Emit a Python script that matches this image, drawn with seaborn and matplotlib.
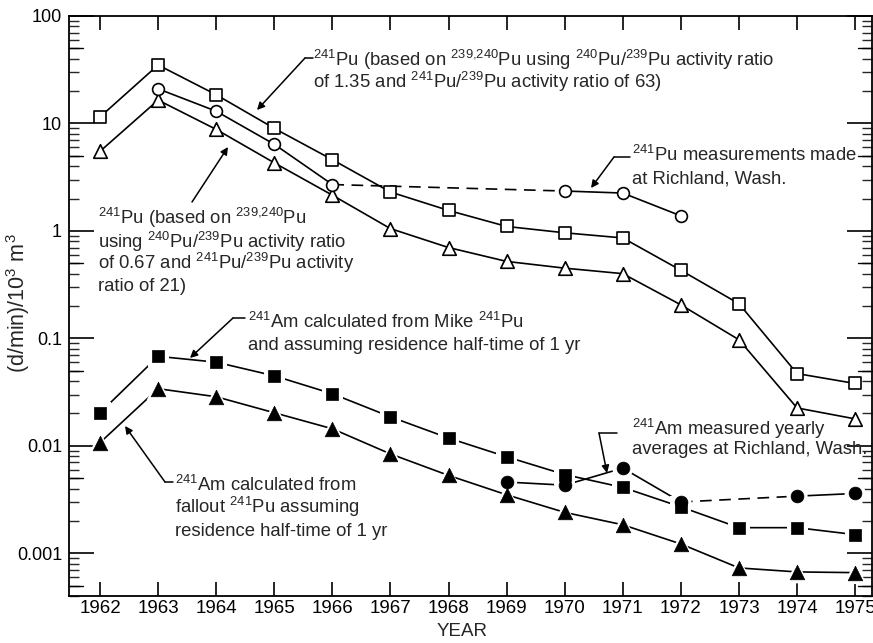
import matplotlib
matplotlib.use("Agg")
import matplotlib.pyplot as plt
import matplotlib.lines as mlines
import numpy as np
import pandas as pd
import seaborn as sns

# ---- data -------------------------------------------------------------
years = list(range(1962, 1976))
year_labels = [str(y) for y in years]

# 241Pu derived from 239,240Pu (ratios 1.35 / 63) - open squares
pu241_high = [11.5, 35.0, 18.5, 9.0, 4.6, 2.3, 1.55, 1.1, 0.96, 0.86, 0.43, 0.21, 0.047, 0.038]
# 241Pu derived from 239,240Pu (ratios 0.67 / 21) - open triangles
pu241_low = [5.5, 16.5, 8.8, 4.3, 2.15, 1.05, 0.70, 0.52, 0.45, 0.40, 0.205, 0.097, 0.0225, 0.0178]
# 241Pu measured at Richland - open circles
pu241_rich_years = [1963, 1964, 1965, 1966, 1970, 1971, 1972]
pu241_rich = [21.0, 13.0, 6.4, 2.7, 2.35, 2.25, 1.38]
# 241Am from Mike 241Pu - filled squares
am241_mike = [0.0203, 0.068, 0.060, 0.0448, 0.0305, 0.0186, 0.0118, 0.0079,
              0.0054, 0.0041, 0.0027, 0.00173, 0.00173, 0.00149]
# 241Am from fallout 241Pu - filled triangles
am241_fallout = [0.0107, 0.034, 0.0286, 0.0203, 0.0144, 0.0084, 0.0053, 0.0035,
                 0.0024, 0.00184, 0.00122, 0.00073, 0.00067, 0.00066]
# 241Am measured yearly averages at Richland - filled circles
am241_rich_years = [1969, 1970, 1971, 1972, 1974, 1975]
am241_rich = [0.0046, 0.0043, 0.0062, 0.0030, 0.0034, 0.0036]

ytick_values = [0.001, 0.01, 0.1, 1, 10, 100]
ytick_labels = ["0.001", "0.01", "0.1", "1", "10", "100"]

# ---- style ------------------------------------------------------------
sns.set_style("ticks")
plt.rcParams["font.family"] = ["Liberation Sans", "DejaVu Sans"]
plt.rcParams["mathtext.fontset"] = "custom"
plt.rcParams["mathtext.rm"] = "Liberation Sans"
plt.rcParams["mathtext.it"] = "Liberation Sans:italic"
plt.rcParams["mathtext.bf"] = "Liberation Sans:bold"

W, H = 873, 643
fig = plt.figure(figsize=(W / 100, H / 100), dpi=100)
ax = fig.add_axes([69 / W, 1 - 596 / H, (872 - 69) / W, (596 - 16) / H])

LW = 1.2


def fp(x, y):
    """pixel position -> figure fraction"""
    return (x / W, 1 - y / H)


def draw_lines(xs, ys):
    """Consecutive years joined by solid lines, missing years bridged by dashes."""
    df = pd.DataFrame({"year": xs, "value": ys})
    run = [0]
    for i in range(1, len(df)):
        if df.year[i] - df.year[i - 1] > 1:
            if len(run) > 1:
                sns.lineplot(data=df.iloc[run], x="year", y="value", ax=ax, color="black",
                             lw=LW, estimator=None, sort=False, legend=False, zorder=2)
            sns.lineplot(data=df.iloc[[i - 1, i]], x="year", y="value", ax=ax, color="black",
                         lw=LW, linestyle=(0, (7, 4.5)), estimator=None, sort=False,
                         legend=False, zorder=2)
            run = [i]
        else:
            run.append(i)
    if len(run) > 1:
        sns.lineplot(data=df.iloc[run], x="year", y="value", ax=ax, color="black",
                     lw=LW, estimator=None, sort=False, legend=False, zorder=2)
    return df


def draw_open(xs, ys, marker, size):
    df = draw_lines(xs, ys)
    sns.scatterplot(data=df, x="year", y="value", ax=ax, marker=marker, s=size,
                    facecolor="white", edgecolor="black", linewidth=LW, zorder=5,
                    legend=False)


def draw_filled(xs, ys, marker, size, halo):
    df = draw_lines(xs, ys)
    sns.scatterplot(data=df, x="year", y="value", ax=ax, marker=marker, s=halo,
                    color="white", edgecolor="none", linewidth=0, zorder=3, legend=False)
    sns.scatterplot(data=df, x="year", y="value", ax=ax, marker=marker, s=size,
                    color="black", edgecolor="black", linewidth=0.5, zorder=4, legend=False)


draw_open(years, pu241_high, "s", 75)
draw_open(years, pu241_low, "^", 95)
draw_open(pu241_rich_years, pu241_rich, "o", 72)
draw_filled(years, am241_mike, "s", 80, 230)
draw_filled(years, am241_fallout, "^", 110, 270)
draw_filled(am241_rich_years, am241_rich, "o", 85, 230)

# ---- axes -------------------------------------------------------------
ax.set_yscale("log")
ax.set_ylim(4.0e-4, 100)
ax.set_xlim(1961.466, 1975.29)
ax.set_xticks(years)
ax.set_xticklabels(year_labels)
ax.set_yticks(ytick_values)
ax.set_yticklabels(ytick_labels)
ax.yaxis.set_minor_locator(matplotlib.ticker.LogLocator(base=10, subs=np.arange(2, 10)))
ax.yaxis.set_minor_formatter(matplotlib.ticker.NullFormatter())
ax.set_xlabel("")
ax.set_ylabel("")
for sp in ax.spines.values():
    sp.set_visible(True)
    sp.set_linewidth(1.3)
    sp.set_color("black")
ax.tick_params(axis="x", which="major", direction="in", length=10, width=1.2,
               top=True, bottom=True, labelsize=13.5, pad=3, colors="black")
ax.tick_params(axis="y", which="major", direction="in", length=18, width=1.2,
               left=True, right=True, labelsize=13, pad=5, colors="black")
ax.tick_params(axis="y", which="minor", direction="in", length=7, width=1.0,
               left=True, right=True)

# slightly longer tick at every 5 x 10^k
ytr = ax.get_yaxis_transform()
for k in range(-4, 2):
    v = 5 * 10.0 ** k
    if 4.0e-4 < v < 100:
        for x0, x1 in ((0, 0.017), (1 - 0.017, 1)):
            ax.plot([x0, x1], [v, v], transform=ytr, color="black", lw=1.0,
                    clip_on=False, zorder=6)

fig.text(*fp(18, 303), r"(d/min)/10$^3$ m$^3$", rotation=90, ha="center", va="center",
         fontsize=15.5)
fig.text(*fp(462, 631), "YEAR", ha="center", va="center", fontsize=13.5)

# ---- annotations ------------------------------------------------------
TFS = 13.3


def label(lines, x, baselines):
    for txt, yb in zip(lines, baselines):
        fig.text(*fp(x, yb), txt, ha="left", va="baseline", fontsize=TFS)


def leader(points):
    """Polyline through pixel points, arrowhead at the last one."""
    for (xa, ya), (xb, yb) in zip(points[:-2], points[1:-1]):
        fig.add_artist(mlines.Line2D([xa / W, xb / W], [1 - ya / H, 1 - yb / H],
                                     color="black", lw=1.1, transform=fig.transFigure))
    ax.annotate("", xy=fp(*points[-1]), xycoords="figure fraction",
                xytext=fp(*points[-2]), textcoords="figure fraction",
                arrowprops=dict(arrowstyle="-|>", color="black", lw=1.1,
                                mutation_scale=11, shrinkA=0, shrinkB=0))


label([r"$^{241}$Pu (based on $^{239{,}240}$Pu using $^{240}$Pu/$^{239}$Pu activity ratio",
       r"of 1.35 and $^{241}$Pu/$^{239}$Pu activity ratio of 63)"], 313, [66, 88])
leader([(313, 58), (305, 58), (257, 110)])

label([r"$^{241}$Pu (based on $^{239{,}240}$Pu",
       r"using $^{240}$Pu/$^{239}$Pu activity ratio",
       r"of 0.67 and $^{241}$Pu/$^{239}$Pu activity",
       "ratio of 21)"], 98, [224, 248, 269, 291])
leader([(192, 202), (228, 147)])

label([r"$^{241}$Pu measurements made", "at Richland, Wash."], 632, [161, 183])
leader([(630, 157), (614, 157), (591, 188)])

label([r"$^{241}$Am calculated from Mike $^{241}$Pu",
       "and assuming residence half-time of 1 yr"], 248, [328, 350])
leader([(245, 318), (233, 318), (190, 358)])

label([r"$^{241}$Am calculated from", r"fallout $^{241}$Pu assuming",
       "residence half-time of 1 yr"], 175, [491, 513, 536])
leader([(173, 482), (165, 482), (125, 426)])

label([r"$^{241}$Am measured yearly", "averages at Richland, Wash."], 632, [435, 454])
leader([(617, 433), (599, 433), (607, 473)])

fig.savefig("out.png", dpi=100)
